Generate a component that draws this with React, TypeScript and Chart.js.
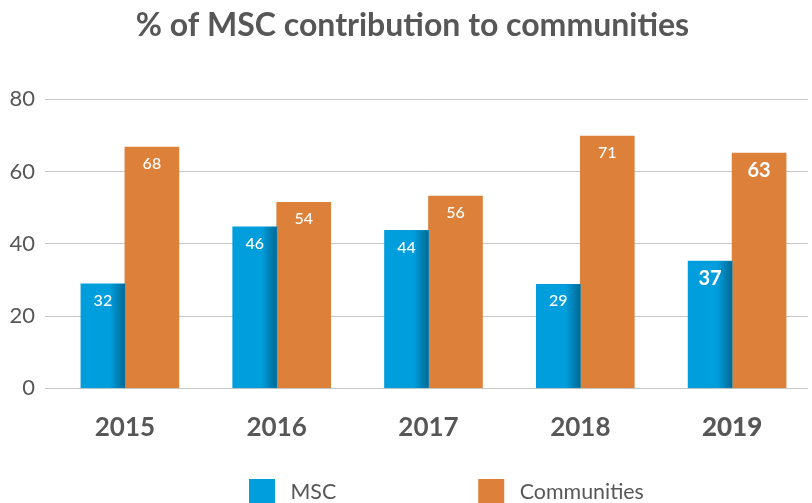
import React, { useEffect, useRef } from "react";
import { Chart, registerables } from "chart.js";

Chart.register(...registerables);

const TITLE = "% of MSC contribution to communities";
const YEARS = ["2015", "2016", "2017", "2018", "2019"];
const SERIES_NAMES = ["MSC", "Communities"];
// bar heights
const MSC_VALUES = [28.9, 44.7, 43.7, 28.8, 35.2];
const COMMUNITIES_VALUES = [66.8, 51.5, 53.2, 69.8, 65.1];
// value labels printed on the bars
const MSC_LABELS = ["32", "46", "44", "29", "37"];
const COMMUNITIES_LABELS = ["68", "54", "56", "71", "63"];
const Y_MIN = 0;
const Y_MAX = 80;
const Y_STEP = 20;

const BLUE = "#009edd";
const ORANGE = "#dd803a";
const TEXT = "#575757";
const GRID = "#c6c6c6";
const FONT = "Lato, 'Open Sans', sans-serif";
const HIGHLIGHT_INDEX = 4;

const titleShiftPlugin = {
  id: "titleShift",
  afterLayout(chart: any) {
    const t = chart.titleBlock;
    if (t) {
      t.left += 17;
      t.width = t.right - t.left;
    }
  },
};

const shadePlugin = {
  id: "barShade",
  afterDatasetDraw(chart: any, args: any) {
    if (args.index !== 0) return;
    const ctx = chart.ctx;
    const meta = chart.getDatasetMeta(0);
    meta.data.forEach((el: any) => {
      const right = el.x + el.width / 2;
      const left = right - 15;
      const g = ctx.createLinearGradient(left, 0, right, 0);
      g.addColorStop(0, "rgba(0,95,135,0)");
      g.addColorStop(1, "rgba(0,95,135,0.85)");
      ctx.save();
      ctx.fillStyle = g;
      ctx.fillRect(left, el.y, right - left, el.base - el.y);
      ctx.restore();
    });
  },
};

const labelPlugin = {
  id: "barLabels",
  afterDatasetsDraw(chart: any) {
    const ctx = chart.ctx;
    const sets = [MSC_LABELS, COMMUNITIES_LABELS];
    sets.forEach((labels, di) => {
      const meta = chart.getDatasetMeta(di);
      meta.data.forEach((el: any, i: number) => {
        const hi = i === HIGHLIGHT_INDEX;
        ctx.save();
        ctx.fillStyle = "#ffffff";
        ctx.textAlign = "center";
        ctx.textBaseline = "middle";
        ctx.font = hi ? `bold 20px ${FONT}` : `500 16px ${FONT}`;
        ctx.fillText(labels[i], el.x, el.y + 17);
        ctx.restore();
      });
    });
  },
};

const legendPlugin = {
  id: "customLegend",
  afterDraw(chart: any) {
    const ctx = chart.ctx;
    const colors = [BLUE, ORANGE];
    const top = chart.chartArea.bottom + 90.7;
    const box = 26;
    let x = chart.width / 2 - 157;
    ctx.save();
    ctx.font = `21.4px ${FONT}`;
    ctx.textBaseline = "alphabetic";
    ctx.textAlign = "left";
    SERIES_NAMES.forEach((name, i) => {
      ctx.fillStyle = colors[i];
      ctx.fillRect(x, top, box, box);
      ctx.fillStyle = TEXT;
      const tx = x + box + 15.5;
      ctx.fillText(name, tx, top + 19.5);
      x = tx + ctx.measureText(name).width + 142;
    });
    ctx.restore();
  },
};

export default function App() {
  const ref = useRef<HTMLCanvasElement | null>(null);
  useEffect(() => {
    let chart: Chart | null = null;
    let cancelled = false;
    const make = () => {
      if (cancelled || !ref.current) return;
      chart = new Chart(ref.current, {
        type: "bar",
        data: {
          labels: YEARS,
          datasets: [
            {
              label: SERIES_NAMES[0],
              data: MSC_VALUES,
              backgroundColor: BLUE,
              barThickness: 44,
            },
            {
              label: SERIES_NAMES[1],
              data: COMMUNITIES_VALUES,
              backgroundColor: ORANGE,
              barThickness: 54,
            },
          ],
        },
        options: {
          responsive: false,
          animation: false,
          layout: { padding: { right: 4, bottom: 67.7, left: 0, top: 0 } },
          plugins: {
            legend: { display: false },
            tooltip: { enabled: false },
            title: {
              display: true,
              text: TITLE,
              color: TEXT,
              font: { family: FONT, size: 32, weight: "bold" },
              padding: { top: 6.2, bottom: 54.7 },
            },
          },
          scales: {
            x: {
              afterFit: (s: any) => {
                s.height = 56;
              },
              grid: { display: false, drawTicks: false },
              border: { display: false },
              ticks: {
                color: TEXT,
                padding: 24,
                font: (c: any) => ({
                  family: FONT,
                  size: 26,
                  weight: c.index === HIGHLIGHT_INDEX ? "900" : "bold",
                }),
              },
            },
            y: {
              min: Y_MIN,
              max: Y_MAX,
              afterFit: (s: any) => {
                s.width = 49;
              },
              grid: { color: GRID, lineWidth: 1, drawTicks: true, tickLength: 4, tickColor: GRID },
              border: { display: false },
              ticks: {
                stepSize: Y_STEP,
                color: TEXT,
                padding: 10,
                font: { family: FONT, size: 22 },
              },
            },
          },
        },
        plugins: [titleShiftPlugin, shadePlugin, labelPlugin, legendPlugin],
      });
    };
    const fonts: any = (document as any).fonts;
    if (fonts && fonts.load) {
      Promise.all([
        fonts.load(`bold 29px Lato`),
        fonts.load(`22px Lato`),
        fonts.load(`900 26px Lato`),
        fonts.load(`500 16px Lato`),
      ]).then(make, make);
    } else make();
    return () => {
      cancelled = true;
      if (chart) chart.destroy();
    };
  }, []);
  return (
    <div style={{ position: "fixed", left: 0, top: 0, width: 812, height: 512 }}>
      <canvas ref={ref} width={812} height={512} style={{ display: "block" }} />
    </div>
  );
}
